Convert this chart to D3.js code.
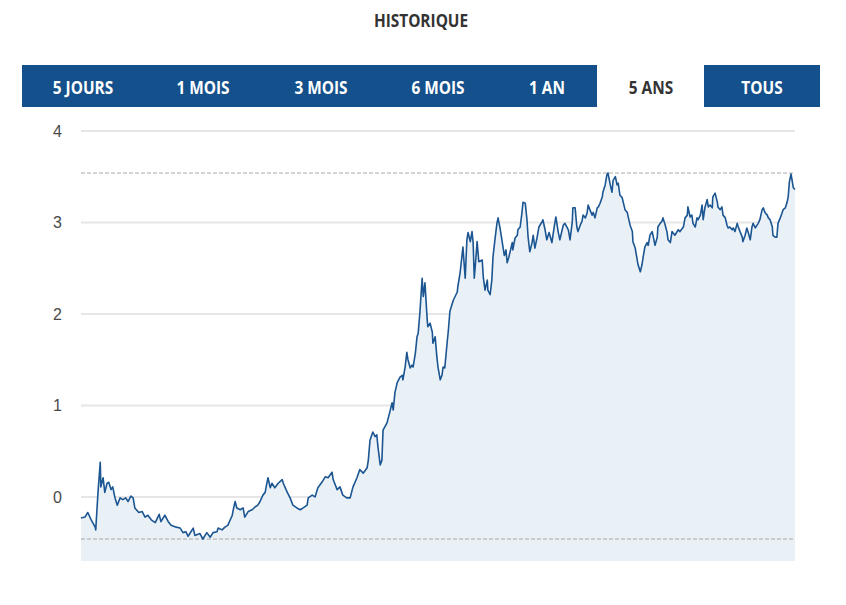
<!DOCTYPE html>
<html><head><meta charset="utf-8">
<script src="https://cdn.jsdelivr.net/npm/d3@7"></script>
<style>html,body{margin:0;padding:0;background:#fff;}svg{display:block}</style>
</head><body>
<svg id="chart" width="846" height="605"></svg>
<script>
const chartTitle = "HISTORIQUE";
const tabLabels = ["5 JOURS","1 MOIS","3 MOIS","6 MOIS","1 AN","5 ANS","TOUS"];
const activeTab = "5 ANS";
const yTicks = [0,1,2,3,4];
// trading sessions over 5 years (0..1260)
const sessions = [0,7,12,18,25,26,30,34,35,39,42,46,49,53,56,60,64,69,74,79,83,88,92,95,102,108,113,118,124,131,138,141,148,154,159,168,175,180,185,189,198,201,210,215,222,228,233,240,242,249,254,259,267,268,272,275,281,286,289,295,302,307,312,316,321,325,328,330,334,337,342,348,355,357,364,369,374,381,387,392,399,401,408,413,418,425,431,436,443,445,452,457,462,469,475,480,487,492,498,505,507,510,515,519,522,524,528,531,533,540,545,549,551,554,558,563,567,568,572,575,577,581,584,586,590,593,595,598,602,604,607,611,612,616,620,621,625,628,630,634,637,639,642,646,648,651,657,664,665,669,674,678,681,683,687,690,692,694,697,699,702,708,710,713,717,718,722,725,727,731,734,736,740,745,747,750,752,755,761,762,766,770,771,775,778,780,784,787,789,792,796,798,801,805,808,814,815,819,822,826,831,835,838,842,845,851,854,860,863,867,868,872,875,877,881,884,886,890,893,895,898,902,904,907,911,913,916,920,921,925,928,930,934,937,939,943,946,948,951,955,957,960,964,965,969,973,974,978,981,983,987,990,992,995,999,1001,1004,1008,1010,1013,1017,1018,1022,1025,1027,1031,1034,1036,1040,1043,1048,1054,1057,1063,1066,1070,1071,1075,1078,1080,1084,1087,1089,1093,1096,1098,1101,1105,1107,1110,1114,1115,1119,1123,1124,1128,1131,1133,1137,1140,1142,1145,1149,1151,1154,1158,1160,1163,1167,1168,1172,1175,1177,1181,1184,1186,1190,1193,1195,1198,1202,1204,1207,1211,1213,1216,1220,1221,1225,1228,1230,1234,1237,1239,1243,1246,1248,1250,1253,1257,1260];
const prices = [-0.23,-0.22,-0.17,-0.25,-0.33,-0.36,0.05,0.38,0.11,0.21,0.05,0.15,0.16,0.08,0.11,-0.01,-0.09,-0.01,-0.03,-0.01,-0.05,0.01,-0.01,-0.12,-0.17,-0.16,-0.22,-0.20,-0.25,-0.28,-0.19,-0.27,-0.20,-0.27,-0.31,-0.33,-0.34,-0.39,-0.38,-0.43,-0.34,-0.42,-0.40,-0.46,-0.39,-0.44,-0.39,-0.38,-0.34,-0.36,-0.33,-0.31,-0.20,-0.16,-0.05,-0.12,-0.14,-0.12,-0.22,-0.16,-0.14,-0.11,-0.09,-0.05,0.02,0.05,0.15,0.21,0.10,0.15,0.10,0.15,0.19,0.15,0.05,-0.01,-0.09,-0.12,-0.14,-0.12,-0.09,-0.01,0.02,0.00,0.10,0.16,0.22,0.21,0.27,0.19,0.08,0.11,0.02,-0.01,-0.01,0.11,0.21,0.30,0.26,0.32,0.40,0.62,0.71,0.66,0.68,0.55,0.35,0.40,0.73,0.81,0.93,1.03,0.95,1.14,1.25,1.31,1.33,1.28,1.42,1.58,1.50,1.41,1.44,1.42,1.57,1.75,1.79,2.01,2.39,2.19,2.34,1.93,1.86,1.90,1.80,1.68,1.75,1.53,1.42,1.28,1.33,1.42,1.41,1.68,1.80,2.03,2.15,2.24,2.30,2.45,2.73,2.39,2.81,2.89,2.79,2.90,2.78,2.39,2.62,2.79,2.57,2.59,2.40,2.26,2.37,2.26,2.21,2.37,2.62,2.84,2.99,3.05,2.92,2.72,2.64,2.70,2.56,2.62,2.78,2.70,2.83,2.86,2.92,2.95,3.10,3.22,3.21,3.03,2.84,2.68,2.78,2.86,2.72,2.84,2.95,3.01,3.03,2.92,2.81,2.89,2.78,2.95,3.06,2.90,2.81,2.97,2.99,2.92,2.81,3.01,3.16,3.16,2.95,2.90,2.97,3.01,3.08,3.05,3.10,3.19,3.14,3.08,3.11,3.05,3.16,3.17,3.21,3.28,3.33,3.41,3.52,3.54,3.41,3.33,3.46,3.50,3.41,3.43,3.30,3.27,3.22,3.14,3.11,3.08,2.97,2.90,2.79,2.72,2.61,2.54,2.46,2.54,2.62,2.73,2.78,2.75,2.86,2.90,2.84,2.75,2.84,2.95,2.99,3.01,3.05,2.97,2.90,2.81,2.78,2.90,2.86,2.92,2.90,2.95,3.05,3.08,3.17,3.06,3.08,2.99,2.95,3.05,3.03,3.08,3.19,3.03,3.16,3.25,3.17,3.19,3.16,3.28,3.32,3.22,3.17,3.14,3.17,3.08,3.05,2.97,2.94,2.95,2.92,2.94,2.90,2.99,2.95,2.90,2.84,2.79,2.86,2.94,2.90,2.81,2.95,2.99,2.94,2.97,2.99,3.03,3.14,3.16,3.11,3.08,3.05,3.03,2.95,2.86,2.84,2.84,2.99,3.05,3.10,3.14,3.16,3.22,3.28,3.44,3.53,3.38,3.36];

// ---- layout ----
const svg = d3.select("#chart");
const plot = {left:81, right:795, top:121.8, bottom:561};
const blue = "#14508b";
const condensed = 0.88;

// title
svg.append("text")
  .attr("transform", `translate(421,27) scale(${condensed},1)`)
  .attr("text-anchor","middle")
  .style("font-family","'Open Sans', sans-serif").style("font-weight",700).style("font-size","17.5px")
  .attr("fill","#333").text(chartTitle);

// tabs
const tabBar = {x:22, y:65, w:798, h:42};
const tabCenters = [83,203,321,438,547,651,762];
const activeBox = {x:597, w:107};
svg.append("rect").attr("x",tabBar.x).attr("y",tabBar.y).attr("width",tabBar.w).attr("height",tabBar.h).attr("fill",blue);
svg.append("rect").attr("x",activeBox.x).attr("y",tabBar.y).attr("width",activeBox.w).attr("height",tabBar.h).attr("fill","#fff");
svg.selectAll("text.tab").data(tabLabels).join("text").attr("class","tab")
  .attr("transform",(d,i)=>`translate(${tabCenters[i]},93.5) scale(${condensed},1)`)
  .attr("text-anchor","middle")
  .style("font-family","'Open Sans', sans-serif").style("font-weight",700).style("font-size","17.5px")
  .attr("fill",d=>d===activeTab?"#333":"#fff").text(d=>d);

// scales
const x = d3.scaleLinear().domain([0,1260]).range([plot.left,plot.right]);
const y = d3.scaleLinear().domain([-0.7,4.1]).range([plot.bottom,plot.top]);
const data = sessions.map((s,i)=>({s, v:prices[i]}));

// grid
svg.append("g").selectAll("line").data(yTicks).join("line")
  .attr("x1",plot.left).attr("x2",plot.right)
  .attr("y1",d=>y(d)).attr("y2",d=>y(d))
  .attr("stroke","#e6e6e6").attr("stroke-width",2);

// y axis labels
const yAxis = d3.axisLeft(y).tickValues(yTicks).tickSize(0).tickPadding(0).tickFormat(d3.format("d"));
const ga = svg.append("g").attr("transform",`translate(62,0)`).call(yAxis);
ga.select(".domain").remove();
ga.selectAll("text").style("font-family","'Liberation Sans', Arial, sans-serif").style("font-size","16px").attr("fill","#4a4a4a");

// area
svg.append("path").datum(data)
  .attr("d", d3.area().x(d=>x(d.s)).y0(plot.bottom).y1(d=>y(d.v)))
  .attr("fill","#eaf1f6");

// min / max dashed lines
const vMin = d3.min(prices), vMax = d3.max(prices);
svg.append("g").selectAll("line").data([vMax,vMin]).join("line")
  .attr("x1",plot.left).attr("x2",plot.right)
  .attr("y1",d=>y(d)).attr("y2",d=>y(d))
  .attr("stroke","#aaaaaa").attr("stroke-width",1).attr("stroke-dasharray","4,2");

// line
svg.append("path").datum(data)
  .attr("d", d3.line().x(d=>x(d.s)).y(d=>y(d.v)))
  .attr("fill","none").attr("stroke","#1b5592").attr("stroke-width",1.6).attr("stroke-linejoin","round");
</script>
</body></html>
